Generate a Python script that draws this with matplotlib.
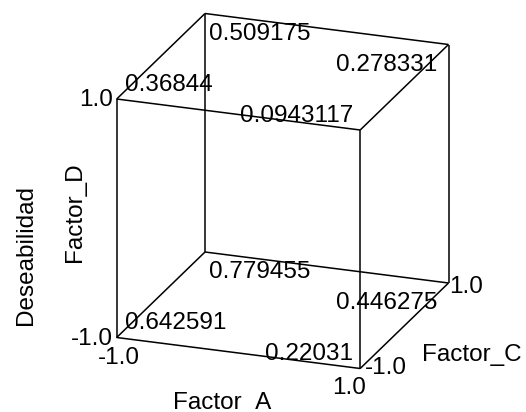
import matplotlib
matplotlib.use("Agg")
import matplotlib.pyplot as plt
import itertools

# ---- data ----
factor_a = [-1, 1, -1, 1, -1, 1, -1, 1]
factor_c = [-1, -1, 1, 1, -1, -1, 1, 1]
factor_d = [-1, -1, -1, -1, 1, 1, 1, 1]
desirability = [0.642591, 0.22031, 0.779455, 0.446275,
                0.36844, 0.0943117, 0.509175, 0.278331]
levels = [-1.0, 1.0]
tick_labels = ["-1.0", "1.0"]
label_a = "Factor_A"
label_c = "Factor_C"
label_d = "Factor_D"
response = "Deseabilidad"

# ---- projection (pixel space, y downward) ----
ORIGIN = (116.7, 337.5)
VA = (243.5, 31.0)
VC = (88.3, -85.5)
VD = (0.0, -238.5)


def proj(a, c, d):
    ta, tc, td = (a + 1) / 2, (c + 1) / 2, (d + 1) / 2
    x = ORIGIN[0] + ta * VA[0] + tc * VC[0] + td * VD[0]
    y = ORIGIN[1] + ta * VA[1] + tc * VC[1] + td * VD[1]
    return x, y


W, H = 526, 412
fig = plt.figure(figsize=(W / 100, H / 100), dpi=100)
ax = fig.add_axes([0, 0, 1, 1])
ax.set_xlim(0, W)
ax.set_ylim(H, 0)
ax.axis("off")

FONT = "Liberation Sans"
FS = 17.5
lw = 1.1

# cube edges
corners = list(itertools.product(levels, levels, levels))
for p, q in itertools.combinations(corners, 2):
    diff = sum(1 for u, v in zip(p, q) if u != v)
    if diff == 1:
        x0, y0 = proj(*p)
        x1, y1 = proj(*q)
        ax.plot([x0, x1], [y0, y1], color="black", lw=lw, solid_capstyle="butt")

# corner values
for a, c, d, v in zip(factor_a, factor_c, factor_d, desirability):
    x, y = proj(a, c, d)
    if a < 0:
        ha = "left"
        dx = 8 if c < 0 else 4
    else:
        ha = "right"
        dx = -7 if c < 0 else -11
    dy = -8.5 if c < 0 else 26
    ax.text(x + dx, y + dy, "%g" % v, ha=ha, va="baseline",
            fontsize=FS, family=FONT, color="black")

# tick labels: Factor_D (left side)
for lv, lab in zip(levels, tick_labels):
    x, y = proj(-1, -1, lv)
    ax.text(x - 3.4, y + 7.3, lab, ha="right", va="baseline",
            fontsize=FS, family=FONT, color="black")

# tick labels: Factor_A (bottom)
a_dx = [2.3, -11]
a_dy = [26, 25]
for lv, lab, dx, dy in zip(levels, tick_labels, a_dx, a_dy):
    x, y = proj(lv, -1, -1)
    ax.text(x + dx, y + dy, lab, ha="center", va="baseline",
            fontsize=FS, family=FONT, color="black")

# tick labels: Factor_C (right side)
c_dx = [5, 0.3]
c_dy = [5, 10]
for lv, lab, dx, dy in zip(levels, tick_labels, c_dx, c_dy):
    x, y = proj(1, lv, -1)
    ax.text(x + dx, y + dy, lab, ha="left", va="baseline",
            fontsize=FS, family=FONT, color="black")

# axis labels
ax.text(221.7, 408.5, label_a, ha="center", va="baseline",
        fontsize=FS, family=FONT, color="black")
ax.text(421.7, 360.7, label_c, ha="left", va="baseline",
        fontsize=FS, family=FONT, color="black")
ax.text(80.7, 211.7, label_d, ha="center", va="baseline", rotation=90,
        rotation_mode="anchor", fontsize=FS, family=FONT, color="black")
ax.text(31.7, 255, response, ha="center", va="baseline", rotation=90,
        rotation_mode="anchor", fontsize=FS, family=FONT, color="black")

fig.savefig("out.png", dpi=100)
